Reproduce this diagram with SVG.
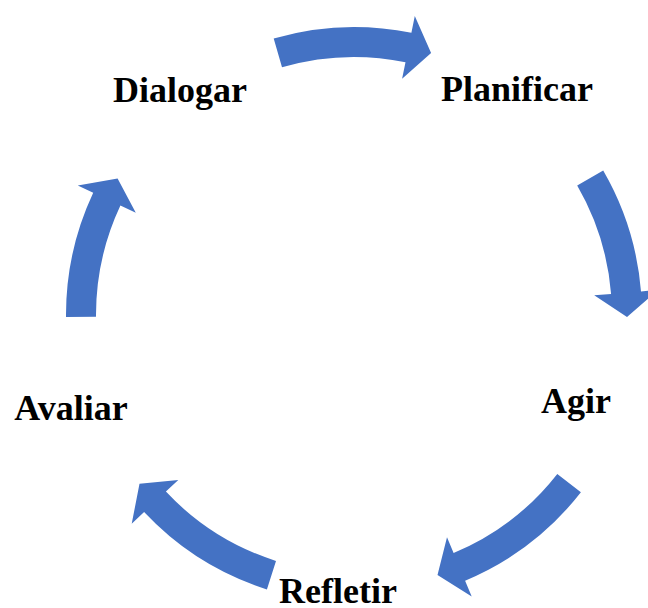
<svg xmlns="http://www.w3.org/2000/svg" width="648" height="608" viewBox="0 0 648 608">
<style>
.arrow{fill:#4472C4;stroke:none}
.lbl{font-family:"Liberation Serif","Times New Roman",serif;font-weight:bold;font-size:36px;fill:#000;text-anchor:middle}
</style>
<rect width="648" height="608" fill="#fff"/>
<g id="connectors">
<path class="arrow" d="M273.7,38.4 A288,288 0 0 1 411.4,32.8 L414.8,16.1 L431.1,53.1 L402.1,78.8 L405.5,62.2 A258,258 0 0 0 282.0,67.2 Z"/>
<path class="arrow" d="M603.2,170.6 A288,288 0 0 1 641.0,291.4 L658.0,290.0 L627.0,316.9 L594.2,295.3 L611.1,293.9 A258,258 0 0 0 577.2,185.6 Z"/>
<path class="arrow" d="M580.9,492.3 A288,288 0 0 1 465.1,580.7 L471.7,596.4 L437.5,574.9 L447.0,537.3 L453.6,553.0 A258,258 0 0 0 557.3,473.9 Z"/>
<path class="arrow" d="M266.9,589.5 A288,288 0 0 1 144.1,512.1 L131.7,523.8 L139.5,483.8 L178.3,480.0 L165.9,491.6 A258,258 0 0 0 276.0,560.9 Z"/>
<path class="arrow" d="M66.0,317.0 A288,288 0 0 1 93.2,192.8 L77.8,185.6 L117.6,178.5 L135.8,212.8 L120.4,205.6 A258,258 0 0 0 96.0,316.8 Z"/>
</g>
<g id="node-dialogar"><text class="lbl" x="180" y="102">Dialogar</text></g>
<g id="node-planificar"><text class="lbl" x="517" y="101">Planificar</text></g>
<g id="node-agir"><text class="lbl" x="576" y="413">Agir</text></g>
<g id="node-refletir"><text class="lbl" x="338" y="603">Refletir</text></g>
<g id="node-avaliar"><text class="lbl" x="71" y="420">Avaliar</text></g>
</svg>
